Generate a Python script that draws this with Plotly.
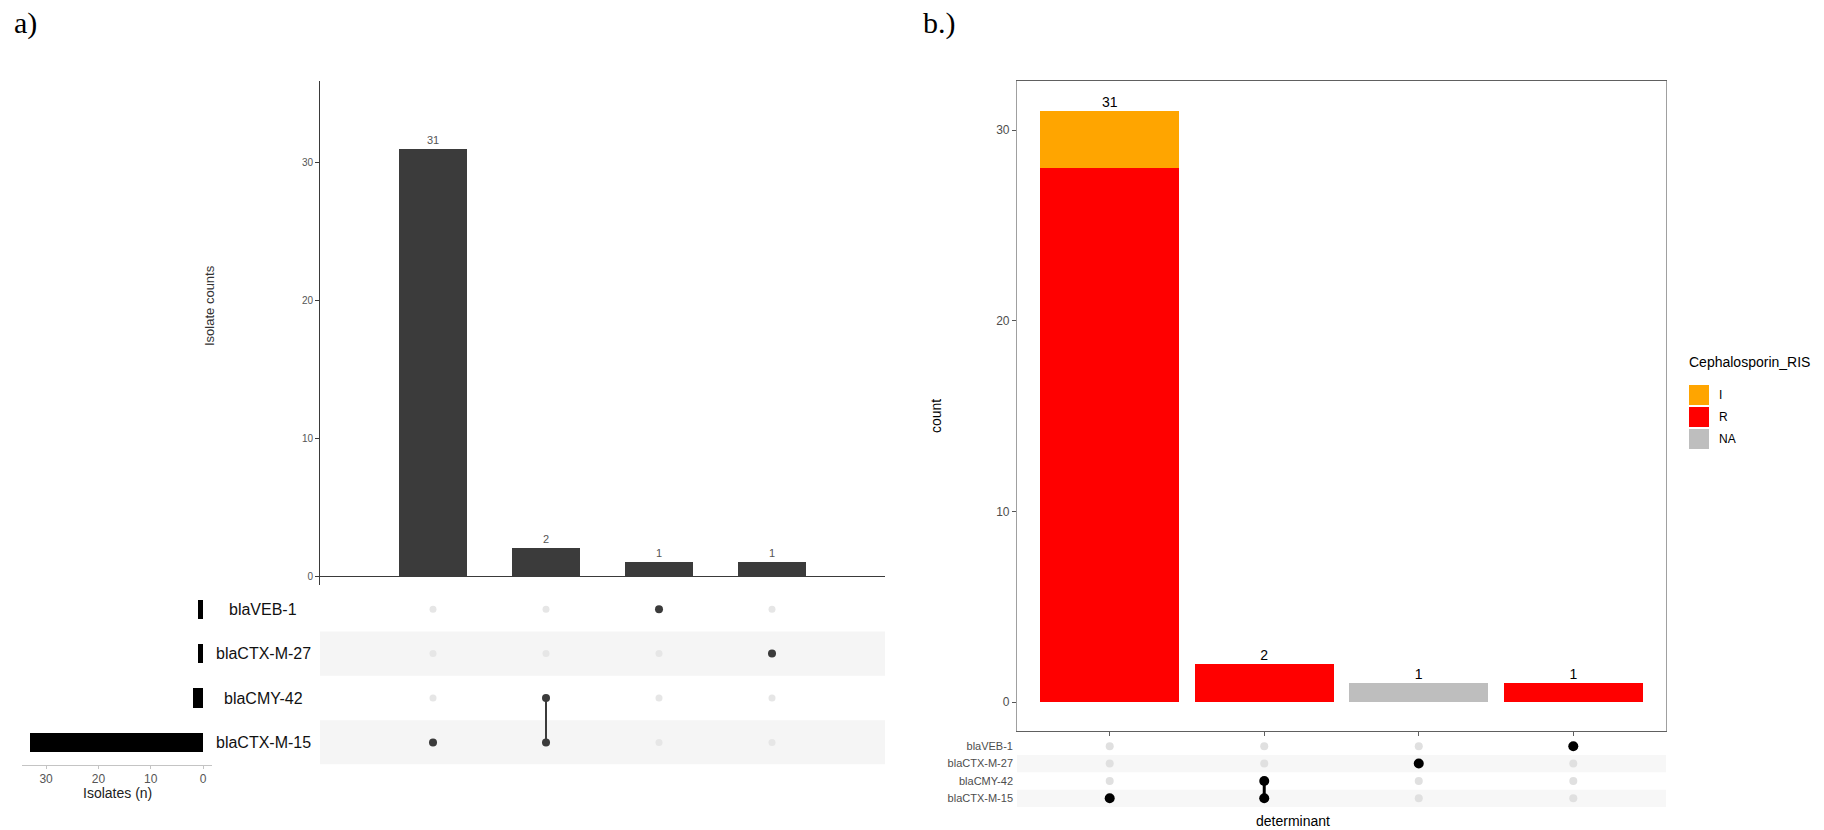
import plotly.graph_objects as go

# ---------------- data ----------------
sets = ["blaCTX-M-15", "blaCMY-42", "blaCTX-M-27", "blaVEB-1"]  # bottom -> top
set_sizes = [33, 2, 1, 1]

a_labels = ["CTX-M-15", "CMY-42 & CTX-M-15", "VEB-1", "CTX-M-27"]
a_counts = [31, 2, 1, 1]
a_members = [["blaCTX-M-15"], ["blaCMY-42", "blaCTX-M-15"], ["blaVEB-1"], ["blaCTX-M-27"]]

b_labels = ["CTX-M-15", "CMY-42 & CTX-M-15", "CTX-M-27", "VEB-1"]
b_members = [["blaCTX-M-15"], ["blaCMY-42", "blaCTX-M-15"], ["blaCTX-M-27"], ["blaVEB-1"]]
ris_levels = ["I", "R", "NA"]
ris_colors = {"I": "#FFA500", "R": "#FF0000", "NA": "#BEBEBE"}
b_R = [28, 2, 0, 1]
b_I = [3, 0, 0, 0]
b_NA = [0, 0, 1, 0]

a_ticks = [0, 10, 20, 30]
b_ticks = [0, 10, 20, 30]
size_ticks = [0, 10, 20, 30]

# ---------------- helpers ----------------
W, H = 1824, 830
FONT = "Arial, Liberation Sans, sans-serif"
SERIF = "Times New Roman, Liberation Serif, serif"


def fx(px):
    return px / W


def fy(py):
    return 1 - py / H


fig = go.Figure()

# ---------------- panel a ----------------
fig.add_trace(go.Bar(
    x=a_labels, y=a_counts, xaxis="x", yaxis="y",
    marker=dict(color="#3b3b3b", line=dict(width=0)), width=0.6,
    text=[str(v) for v in a_counts], textposition="outside",
    textfont=dict(size=11, color="#555555", family=FONT),
    cliponaxis=False, showlegend=False))


def matrix_traces(labels, members, xa, ya, c_on, c_off, s_on, s_off, lw):
    ex, ey = [], []
    for lab, mem in zip(labels, members):
        for s in sets:
            if s not in mem:
                ex.append(lab)
                ey.append(s)
    fig.add_trace(go.Scatter(x=ex, y=ey, xaxis=xa, yaxis=ya, mode="markers",
                             marker=dict(color=c_off, size=s_off), showlegend=False,
                             hoverinfo="skip"))
    lx, ly = [], []
    for lab, mem in zip(labels, members):
        if len(mem) > 1:
            idx = sorted(sets.index(m) for m in mem)
            lx += [lab, lab, None]
            ly += [sets[idx[0]], sets[idx[-1]], None]
    fig.add_trace(go.Scatter(x=lx, y=ly, xaxis=xa, yaxis=ya, mode="lines",
                             line=dict(color=c_on, width=lw), showlegend=False,
                             hoverinfo="skip"))
    fx_, fy_ = [], []
    for lab, mem in zip(labels, members):
        for m in mem:
            fx_.append(lab)
            fy_.append(m)
    fig.add_trace(go.Scatter(x=fx_, y=fy_, xaxis=xa, yaxis=ya, mode="markers",
                             marker=dict(color=c_on, size=s_on), showlegend=False))


matrix_traces(a_labels, a_members, "x2", "y2", "#3b3b3b", "#e6e6e6", 8, 7, 2)

fig.add_trace(go.Bar(
    x=set_sizes, y=sets, orientation="h", xaxis="x3", yaxis="y3",
    marker=dict(color="#000000", line=dict(width=0)), width=0.43, showlegend=False))

# ---------------- panel b ----------------
for lvl, vals in [("R", b_R), ("I", b_I), ("NA", b_NA)]:
    fig.add_trace(go.Bar(
        x=b_labels, y=vals, xaxis="x4", yaxis="y4", name=lvl,
        marker=dict(color=ris_colors[lvl], line=dict(width=0)), width=0.9,
        showlegend=False))

b_tot = [r + i + n for r, i, n in zip(b_R, b_I, b_NA)]
fig.add_trace(go.Scatter(
    x=b_labels, y=b_tot, xaxis="x4", yaxis="y4", mode="text",
    text=[str(v) for v in b_tot], textposition="top center",
    textfont=dict(size=14, color="#000000", family=FONT),
    cliponaxis=False, showlegend=False, hoverinfo="skip"))

matrix_traces(b_labels, b_members, "x5", "y5", "#000000", "#e0e0e0", 10, 8, 3)

# ---------------- layout ----------------
hidden = dict(showticklabels=False, showline=False, ticks="", showgrid=False, zeroline=False)

a_x_dom = [fx(320), fx(885)]
a_mat_dom = [fy(764.6), fy(587)]
b_x_dom = [fx(1017), fx(1666)]
b_mat_dom = [fy(807), fy(737.5)]

layout = dict(
    width=W, height=H, margin=dict(l=0, r=0, t=0, b=0),
    paper_bgcolor="white", plot_bgcolor="rgba(0,0,0,0)",
    barmode="stack", bargap=0, font=dict(family=FONT),
    xaxis=dict(domain=a_x_dom, anchor="y", type="category", categoryorder="array",
               categoryarray=a_labels, range=[-1, 4], **hidden),
    yaxis=dict(domain=[fy(585), fy(81)], anchor="x", range=[-0.65, 35.9],
               showline=True, linecolor="#3a3a3a", linewidth=1, ticks="outside",
               ticklen=4, tickcolor="#3a3a3a", tickvals=a_ticks,
               tickfont=dict(size=10, color="#555555"), showgrid=False,
               zeroline=True, zerolinecolor="#3a3a3a", zerolinewidth=1.3),
    xaxis2=dict(domain=a_x_dom, anchor="y2", type="category", categoryorder="array",
                categoryarray=a_labels, range=[-1, 4], **hidden),
    yaxis2=dict(domain=a_mat_dom, anchor="x2", type="category", categoryorder="array",
                categoryarray=sets, range=[-0.5, 3.5], **hidden),
    xaxis3=dict(domain=[fx(22), fx(212)], anchor="y3", range=[34.6, -1.7],
                showline=True, linecolor="#c4c4c4", linewidth=1, ticks="outside",
                ticklen=3, tickcolor="#c4c4c4", tickvals=size_ticks,
                tickfont=dict(size=12, color="#555555"), showgrid=False, zeroline=False),
    yaxis3=dict(domain=a_mat_dom, anchor="x3", type="category", categoryorder="array",
                categoryarray=sets, range=[-0.5, 3.5], **hidden),
    xaxis4=dict(domain=b_x_dom, anchor="y4", type="category", categoryorder="array",
                categoryarray=b_labels, range=[-0.6, 3.6], showticklabels=False,
                showline=True, mirror=True, linecolor="#606060", linewidth=1.2,
                ticks="outside", ticklen=4, tickcolor="#606060", showgrid=False,
                zeroline=False),
    yaxis4=dict(domain=[fy(731), fy(81)], anchor="x4", range=[-1.52, 32.57],
                showline=True, mirror=True, linecolor="#a0a0a0", linewidth=1.2,
                ticks="outside", ticklen=4, tickcolor="#555555", tickvals=b_ticks,
                tickfont=dict(size=12, color="#4d4d4d"), showgrid=False, zeroline=False),
    xaxis5=dict(domain=b_x_dom, anchor="y5", type="category", categoryorder="array",
                categoryarray=b_labels, range=[-0.6, 3.6], **hidden),
    yaxis5=dict(domain=b_mat_dom, anchor="x5", type="category", categoryorder="array",
                categoryarray=sets, range=[-0.5, 3.5], showticklabels=True,
                tickfont=dict(size=11, color="#4d4d4d"), ticks="", showline=False,
                showgrid=False, zeroline=False, ticklabelstandoff=3),
)

shapes = []
annotations = []
# striped rows
for i, s in enumerate(sets):
    if i % 2 == 0:
        shapes.append(dict(type="rect", xref="x2 domain", yref="y2", x0=0, x1=1,
                           y0=i - 0.5, y1=i + 0.5, fillcolor="#f5f5f5",
                           line=dict(width=0), layer="below"))
        shapes.append(dict(type="rect", xref="x5 domain", yref="y5", x0=0, x1=1,
                           y0=i - 0.5, y1=i + 0.5, fillcolor="#f7f7f7",
                           line=dict(width=0), layer="below"))
    annotations.append(dict(xref="paper", yref="y3", x=fx(263), y=s, text=s,
                            showarrow=False, xanchor="center", yanchor="middle",
                            font=dict(size=16, color="#111111", family=FONT)))

# custom legend
annotations.append(dict(xref="paper", yref="paper", x=fx(1687), y=fy(362),
                        text="Cephalosporin_RIS", showarrow=False, xanchor="left",
                        yanchor="middle", font=dict(size=14, color="#000000", family=FONT)))
for k, lvl in enumerate(ris_levels):
    top = 385 + 22 * k
    shapes.append(dict(type="rect", xref="paper", yref="paper", x0=fx(1689), x1=fx(1709),
                       y0=fy(top + 20), y1=fy(top), fillcolor=ris_colors[lvl],
                       line=dict(width=0)))
    annotations.append(dict(xref="paper", yref="paper", x=fx(1717), y=fy(top + 10),
                            text=lvl, showarrow=False, xanchor="left", yanchor="middle",
                            font=dict(size=12, color="#000000", family=FONT)))

annotations += [
    dict(xref="paper", yref="paper", x=fx(12), y=fy(23), text="a)", showarrow=False,
         xanchor="left", yanchor="middle", font=dict(size=30, color="#000000", family=SERIF)),
    dict(xref="paper", yref="paper", x=fx(921), y=fy(23), text="b.)", showarrow=False,
         xanchor="left", yanchor="middle", font=dict(size=30, color="#000000", family=SERIF)),
    dict(xref="paper", yref="paper", x=fx(209), y=fy(306), text="Isolate counts",
         showarrow=False, textangle=-90, xanchor="center", yanchor="middle",
         font=dict(size=13, color="#333333", family=FONT)),
    dict(xref="paper", yref="paper", x=fx(117), y=fy(793), text="Isolates (n)",
         showarrow=False, xanchor="center", yanchor="middle",
         font=dict(size=14, color="#222222", family=FONT)),
    dict(xref="paper", yref="paper", x=fx(936), y=fy(416), text="count",
         showarrow=False, textangle=-90, xanchor="center", yanchor="middle",
         font=dict(size=14, color="#000000", family=FONT)),
    dict(xref="paper", yref="paper", x=fx(1293), y=fy(821), text="determinant",
         showarrow=False, xanchor="center", yanchor="middle",
         font=dict(size=14, color="#000000", family=FONT)),
]

layout["shapes"] = shapes
layout["annotations"] = annotations
fig.update_layout(**layout)

fig.write_html("out.html")
